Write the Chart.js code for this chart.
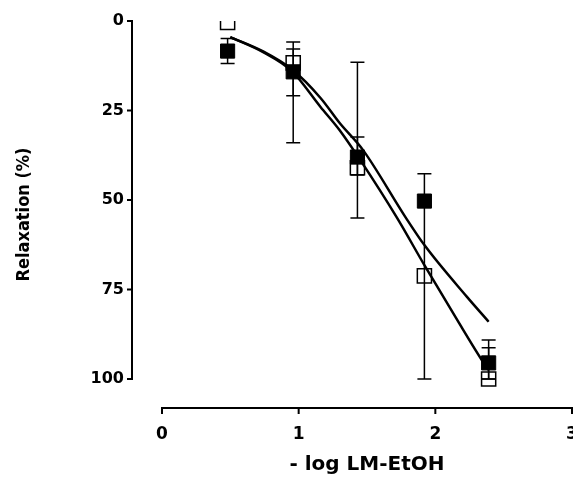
<!DOCTYPE html>
<html>
<head>
<meta charset="utf-8">
<script src="https://cdn.jsdelivr.net/npm/chart.js@4.4.0/dist/chart.umd.min.js"></script>
<style>
  html, body { margin: 0; padding: 0; background: #fff; }
</style>
</head>
<body>
<canvas id="myChart" width="573" height="477"></canvas>
<script>
// doses (- log LM-EtOH)
const doseX = [0.48, 0.96, 1.43, 1.92, 2.39];

// open squares
const openY = [0.4, 11.7, 41, 71.2, 100];
const openLow = [null, 5.9, 11.5, 42.7, 91.3];
const openHigh = [null, 34, 55, 100, 100];

// filled squares
const filledY = [8.4, 14.2, 38, 50.3, 95.5];
const filledLow = [4.9, 7.8, 32.4, null, 89.1];
const filledHigh = [11.9, 20.9, 43, null, 100];

// fitted curves
const curveOpenX = [0.5, 0.74, 0.95, 1.16, 1.30, 1.45, 1.72, 1.92, 2.16, 2.34, 2.39];
const curveOpenY = [4.5, 8.7, 14, 24, 30.5, 38.8, 55, 68.2, 83.5, 94.7, 97.5];
const curveFilledX = [0.5, 0.74, 0.95, 1.16, 1.30, 1.47, 1.78, 1.92, 2.23, 2.39];
const curveFilledY = [4.5, 8.5, 13.5, 21.5, 28.5, 36, 54.7, 62.6, 77, 84];

const xTicks = [0, 1, 2, 3];
const yTicks = [0, 25, 50, 75, 100];

const pts = (xs, ys) => xs.map((x, i) => ({ x: x, y: ys[i] }));
const FONT = "'DejaVu Sans', Arial, sans-serif";
const yAxisGap = 30; // y axis sits left of x=0 (prism offset axes)

// error bars drawn with the chart scales
const errorBars = {
  id: "errorBars",
  beforeDatasetsDraw(chart) {
    const ctx = chart.ctx;
    const xs = chart.scales.x, ys = chart.scales.y;
    chart.data.datasets.forEach((ds) => {
      if (!ds.errLow) return;
      ctx.save();
      ctx.strokeStyle = "#000";
      ctx.lineWidth = 1.5;
      ds.data.forEach((p, j) => {
        const lo = ds.errLow[j], hi = ds.errHigh[j];
        if (lo == null || hi == null) return;
        const px = xs.getPixelForValue(p.x);
        const y1 = ys.getPixelForValue(lo);
        const y2 = ys.getPixelForValue(hi);
        ctx.beginPath();
        ctx.moveTo(px, y1); ctx.lineTo(px, y2);
        ctx.moveTo(px - 7, y1); ctx.lineTo(px + 7, y1);
        ctx.moveTo(px - 7, y2); ctx.lineTo(px + 7, y2);
        ctx.stroke();
      });
      ctx.restore();
    });
  }
};

// detached axis lines + tick marks
const axisLines = {
  id: "axisLines",
  afterDraw(chart) {
    const ctx = chart.ctx;
    const xs = chart.scales.x, ys = chart.scales.y;
    const a = chart.chartArea;
    const ax = xs.getPixelForValue(xTicks[0]) - yAxisGap;
    ctx.save();
    ctx.strokeStyle = "#000";
    ctx.lineWidth = 2;
    ctx.beginPath();
    ctx.moveTo(ax, ys.getPixelForValue(yTicks[0]) - 1);
    ctx.lineTo(ax, ys.getPixelForValue(yTicks[yTicks.length - 1]) + 1);
    yTicks.forEach((v) => {
      const py = ys.getPixelForValue(v);
      ctx.moveTo(ax - 5, py);
      ctx.lineTo(ax, py);
    });
    ctx.moveTo(xs.getPixelForValue(xTicks[0]) - 1, a.bottom);
    ctx.lineTo(xs.getPixelForValue(xTicks[xTicks.length - 1]) + 1, a.bottom);
    xTicks.forEach((v) => {
      const px = xs.getPixelForValue(v);
      ctx.moveTo(px, a.bottom);
      ctx.lineTo(px, a.bottom + 6);
    });
    ctx.stroke();
    ctx.restore();
  }
};

const ctx = document.getElementById("myChart").getContext("2d");
const myChart = new Chart(ctx, {
  type: "scatter",
  data: {
    datasets: [
      {
        label: "filled",
        data: pts(doseX, filledY),
        errLow: filledLow,
        errHigh: filledHigh,
        pointStyle: "rect",
        pointRadius: 10,
        backgroundColor: "#000",
        borderColor: "#000",
        borderWidth: 1
      },
      {
        label: "open",
        data: pts(doseX, openY),
        errLow: openLow,
        errHigh: openHigh,
        pointStyle: "rect",
        pointRadius: 10,
        backgroundColor: "rgba(0,0,0,0)",
        borderColor: "#000",
        borderWidth: 1.5
      },
      {
        label: "fit open",
        data: pts(curveOpenX, curveOpenY),
        showLine: true,
        pointRadius: 0,
        borderColor: "#000",
        borderWidth: 2.5,
        cubicInterpolationMode: "monotone"
      },
      {
        label: "fit filled",
        data: pts(curveFilledX, curveFilledY),
        showLine: true,
        pointRadius: 0,
        borderColor: "#000",
        borderWidth: 2.5,
        cubicInterpolationMode: "monotone"
      }
    ]
  },
  options: {
    responsive: false,
    animation: false,
    layout: { autoPadding: false, padding: { top: 21, right: 1, left: 0, bottom: 0 } },
    plugins: { legend: { display: false }, tooltip: { enabled: false } },
    scales: {
      x: {
        type: "linear",
        min: 0,
        max: 3,
        afterBuildTicks: (s) => { s.ticks = xTicks.map((v) => ({ value: v })); },
        afterFit: (s) => { s.height = 69; s.paddingLeft = 0; s.paddingRight = 0; },
        border: { display: false },
        grid: { display: false, drawTicks: true, tickLength: 6 },
        ticks: { color: "#000", padding: 10, maxRotation: 0, font: { family: FONT, size: 17, weight: "bold" } },
        title: {
          display: true,
          text: "- log LM-EtOH",
          color: "#000",
          padding: { top: 0, bottom: 0 },
          font: { family: FONT, size: 20, weight: "bold" }
        }
      },
      y: {
        type: "linear",
        reverse: true,
        min: 0,
        max: 108.1,
        afterBuildTicks: (s) => { s.ticks = yTicks.map((v) => ({ value: v })); },
        afterFit: (s) => { s.width = 162; },
        border: { display: false },
        grid: { display: false, drawTicks: true, tickLength: 35 },
        ticks: { color: "#000", padding: 3, font: { family: FONT, size: 16, weight: "bold" } },
        title: {
          display: true,
          text: "Relaxation (%)",
          color: "#000",
          padding: { top: 14, bottom: 0 },
          font: { family: "'DejaVu Sans Condensed', 'DejaVu Sans', sans-serif", size: 18, weight: "bold" }
        }
      }
    }
  },
  plugins: [errorBars, axisLines]
});
</script>
</body>
</html>
